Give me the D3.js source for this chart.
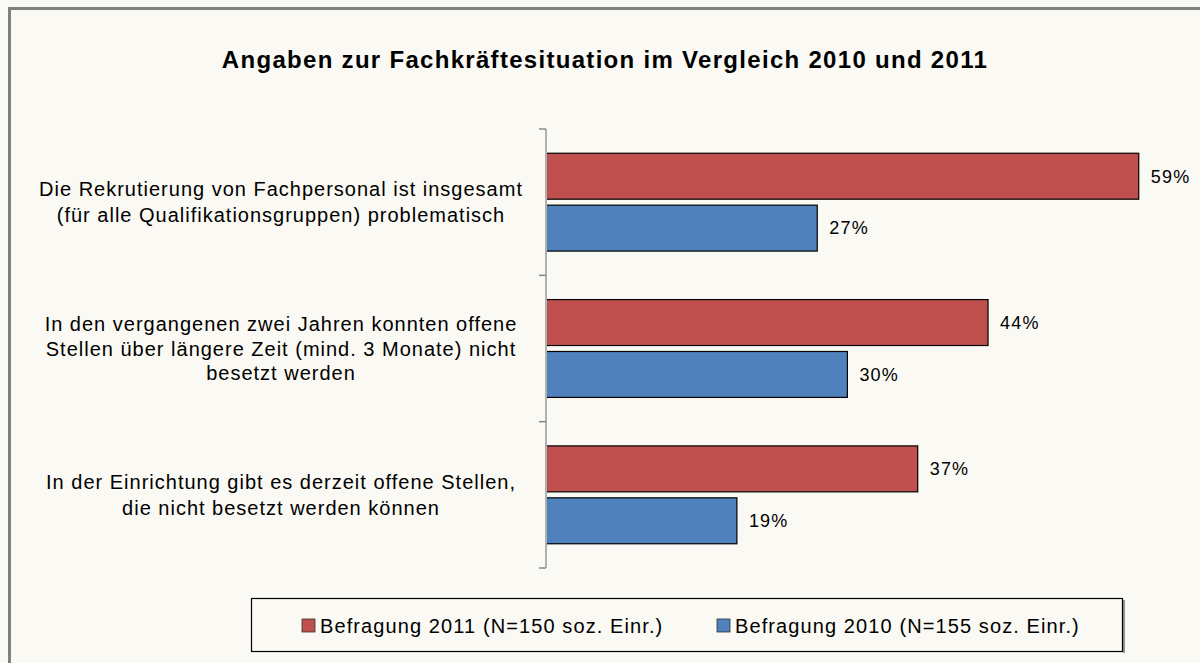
<!DOCTYPE html>
<html>
<head>
<meta charset="utf-8">
<script src="https://cdn.jsdelivr.net/npm/d3@7"></script>
<style>
  html, body { margin: 0; padding: 0; background: #FAF9F3; }
  svg { display: block; font-family: "Liberation Sans", Arial, sans-serif; }
</style>
</head>
<body>
<svg id="chart" width="1200" height="663"></svg>
<script>
const title = "Angaben zur Fachkräftesituation im Vergleich 2010 und 2011";
const categories = [
  ["Die Rekrutierung von Fachpersonal ist insgesamt", "(für alle Qualifikationsgruppen) problematisch"],
  ["In den vergangenen zwei Jahren konnten offene", "Stellen über längere Zeit (mind. 3 Monate) nicht", "besetzt werden"],
  ["In der Einrichtung gibt es derzeit offene Stellen,", "die nicht besetzt werden können"]
];
const seriesNames = ["Befragung 2011 (N=150 soz. Einr.)", "Befragung 2010 (N=155 soz. Einr.)"];
const values2011 = [59, 44, 37];
const values2010 = [27, 30, 19];
const colors = ["#C0504D", "#4F81BD"];

const svg = d3.select("#chart");
const W = 1200, H = 663;

// background + outer frame
svg.append("rect").attr("x", 0).attr("y", 0).attr("width", W).attr("height", H).attr("fill", "#FAF9F3");
svg.append("rect").attr("x", 9.5).attr("y", 8.5).attr("width", W + 20).attr("height", H + 20)
  .attr("fill", "none").attr("stroke", "#808080").attr("stroke-width", 3);

// title
svg.append("text").attr("x", 605).attr("y", 68).attr("text-anchor", "middle")
  .attr("font-size", 24).attr("font-weight", "bold").attr("letter-spacing", 1.3)
  .attr("fill", "#000").text(title);

const catIdx = categories.map((d, i) => i);
const y = d3.scaleBand().domain(catIdx).range([129, 568]).padding(0);
const ySub = d3.scaleBand().domain([0, 1]).range([0, y.bandwidth()]).paddingInner(0.115).paddingOuter(0.467);
const x = d3.scaleLinear().domain([0, 65]).range([546, 546 + 653]);

const data = [];
catIdx.forEach(i => {
  data.push({cat: i, s: 0, v: values2011[i]});
  data.push({cat: i, s: 1, v: values2010[i]});
});

// bars
svg.append("g").selectAll("rect").data(data).join("rect")
  .attr("x", x(0))
  .attr("y", d => y(d.cat) + ySub(d.s))
  .attr("width", d => x(d.v) - x(0))
  .attr("height", ySub.bandwidth())
  .attr("fill", d => colors[d.s])
  .attr("stroke", "#000").attr("stroke-width", 1.2);

// value labels
svg.append("g").selectAll("text").data(data).join("text")
  .attr("x", d => x(d.v) + 12)
  .attr("y", d => y(d.cat) + ySub(d.s) + ySub.bandwidth() / 2)
  .attr("dy", "0.35em")
  .attr("font-size", 18).attr("letter-spacing", 1.2).attr("fill", "#000")
  .text(d => d.v + "%");

// axis line and ticks
const ax = svg.append("g");
ax.append("line").attr("x1", x(0)).attr("x2", x(0)).attr("y1", y.range()[0]).attr("y2", y.range()[1])
  .attr("stroke", "#B0B0B0").attr("stroke-width", 2);
const tickYs = catIdx.map(i => y(i)).concat([y.range()[1]]);
ax.selectAll("line.tick").data(tickYs).join("line").attr("class", "tick")
  .attr("x1", x(0) - 7).attr("x2", x(0)).attr("y1", d => d).attr("y2", d => d)
  .attr("stroke", "#888").attr("stroke-width", 1.5);

// category labels
const lg = svg.append("g");
categories.forEach((lines, i) => {
  const cy = y(i) + y.bandwidth() / 2;
  const lh = lines.length === 2 ? 26 : 24.5;
  const t = lg.append("text").attr("text-anchor", "middle").attr("font-size", 20)
    .attr("letter-spacing", 1.0).attr("fill", "#000");
  lines.forEach((ln, j) => {
    t.append("tspan").attr("x", 281)
      .attr("y", cy + (j - (lines.length - 1) / 2) * lh)
      .attr("dy", "0.35em").text(ln);
  });
});

// legend
svg.append("line").attr("x1", 1124).attr("x2", 1124).attr("y1", 600).attr("y2", 653)
  .attr("stroke", "#999").attr("stroke-width", 2);
svg.append("rect").attr("x", 251.5).attr("y", 598.5).attr("width", 871).attr("height", 53)
  .attr("fill", "#FAF9F3").attr("stroke", "#000").attr("stroke-width", 1.2);
const legX = [302, 717];
seriesNames.forEach((name, i) => {
  svg.append("rect").attr("x", legX[i]).attr("y", 619).attr("width", 13).attr("height", 13)
    .attr("fill", colors[i]).attr("stroke", "#333").attr("stroke-width", 0.8);
  svg.append("text").attr("x", legX[i] + 18).attr("y", 625.5).attr("dy", "0.35em")
    .attr("font-size", 20).attr("letter-spacing", 1.1).attr("fill", "#000").text(name);
});
</script>
</body>
</html>
